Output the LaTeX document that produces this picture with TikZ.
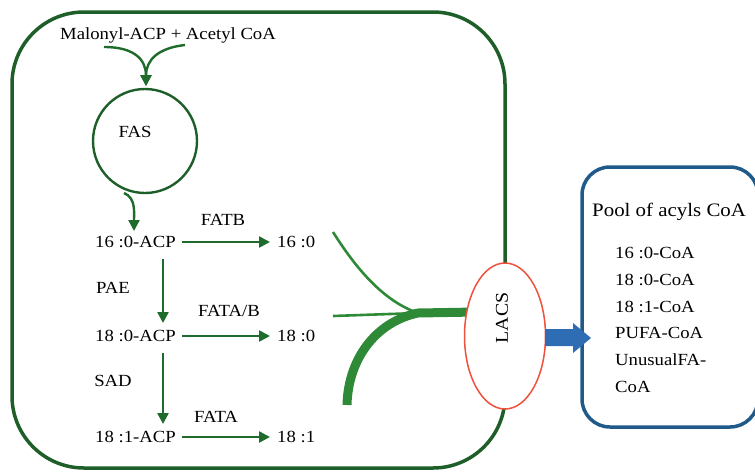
\documentclass[tikz,border=0pt]{standalone}
\usepackage{fontspec}
\setmainfont{Liberation Serif}[FakeStretch=1.1]
\usetikzlibrary{arrows.meta,shapes.geometric}
\definecolor{dgreen}{HTML}{1E5E28}
\definecolor{agreen}{HTML}{1F6B2B}
\definecolor{lgreen}{HTML}{2F8A38}
\definecolor{dblue}{HTML}{1F5A8A}
\definecolor{ablue}{HTML}{2E6DB4}
\definecolor{lred}{HTML}{F0503C}
\tikzset{
  x=1pt, y=-1pt,
  lbl/.style={inner sep=0pt, font=\fontsize{17}{20}\selectfont},
  flow/.style={agreen, line width=2.4pt, -{Triangle[length=11pt,width=11pt]}},
  gbox/.style={draw=dgreen, line width=3.5pt, rounded corners=72pt},
  bbox/.style={draw=dblue, line width=3.5pt, rounded corners=28pt},
  feed/.style={lgreen, line width=2.6pt},
}
\begin{document}
\begin{tikzpicture}
\useasboundingbox (0,0) rectangle (755,472);
% boxes
\path[gbox] (12,12) rectangle (505,468);
\path[bbox] (582,167) rectangle (758,427);
% top substrates
\node[lbl, anchor=center] (mal) at (168,35) {Malonyl-ACP + Acetyl CoA};
\node[circle, draw=dgreen, line width=2.4pt, minimum size=104pt, inner sep=0pt] (fascirc) at (145,141) {};
\node[lbl] (fas) at (135,132) {FAS};
\coordinate (malL) at (104,47);
\coordinate (malR) at (185,45);
\coordinate (fasin) at (146,86);
\draw[flow] (malL) .. controls (135,47) and (146,60) .. (fasin);
\draw[flow] (malR) .. controls (158,48) and (146,60) .. (fasin);
% chain
\node[lbl, anchor=west] (a16) at (95,242) {16 :0-ACP};
\node[lbl, anchor=west] (f16) at (277,242) {16 :0};
\node[lbl, anchor=west] (a180) at (95,336) {18 :0-ACP};
\node[lbl, anchor=west] (f180) at (277,336) {18 :0};
\node[lbl, anchor=west] (a181) at (95,437) {18 :1-ACP};
\node[lbl, anchor=west] (f181) at (277,437) {18 :1};
\node[lbl] (fatb) at (223,220) {FATB};
\node[lbl] (pae) at (113,288) {PAE};
\node[lbl] (fatab) at (229,311) {FATA/B};
\node[lbl] (sad) at (113,381) {SAD};
\node[lbl] (fata) at (216,417) {FATA};
\coordinate (fasout) at (124,193);
\draw[flow] (fasout) .. controls (136,198) and (134,212) .. (134,231);
\draw[flow] ([xshift=6pt]a16.east) -- ([xshift=-7pt]f16.west);
\draw[flow] ([xshift=6pt]a180.east) -- ([xshift=-7pt]f180.west);
\draw[flow] ([xshift=6pt]a181.east) -- ([xshift=-7pt]f181.west);
\coordinate (v1a) at (163,259);
\coordinate (v1b) at (163,323);
\coordinate (v2a) at (163,353);
\coordinate (v2b) at (163,424);
\draw[flow] (v1a) -- (v1b);
\draw[flow] (v2a) -- (v2b);
% feeding curves
\coordinate (c1) at (333,232);
\coordinate (c2) at (333,316);
\coordinate (c3) at (347,405);
\coordinate (m) at (418,313);
\coordinate (lacsin) at (476,312);
\draw[feed] (c1) .. controls (352,262) and (380,300) .. (m);
\draw[feed] (c2) -- (m);
\draw[lgreen, line width=9pt] (c3) .. controls (348,360) and (375,322) .. (m) -- (lacsin);
% LACS
\node[ellipse, draw=lred, line width=1.5pt, fill=white, minimum width=81pt, minimum height=146pt, inner sep=0pt] (lacs) at (505,336) {};
\node[lbl, rotate=90, font=\fontsize{18}{20}\selectfont] (lacst) at (502,318) {LACS};
% blue arrow
\fill[ablue] (545,329) -- (573,329) -- (573,323) -- (591,338) -- (573,353) -- (573,346) -- (545,346) -- cycle;
% pool
\node[lbl, anchor=west, font=\fontsize{19}{22}\selectfont] (pool) at (592,212) {Pool of acyls CoA};
\node[lbl, anchor=west] (p1) at (615,253) {16 :0-CoA};
\node[lbl, anchor=west] (p2) at (615,280) {18 :0-CoA};
\node[lbl, anchor=west] (p3) at (615,307) {18 :1-CoA};
\node[lbl, anchor=west] (p4) at (615,333) {PUFA-CoA};
\node[lbl, anchor=west] (p5) at (615,360) {UnusualFA-};
\node[lbl, anchor=west] (p6) at (615,387) {CoA};
\end{tikzpicture}
\end{document}
